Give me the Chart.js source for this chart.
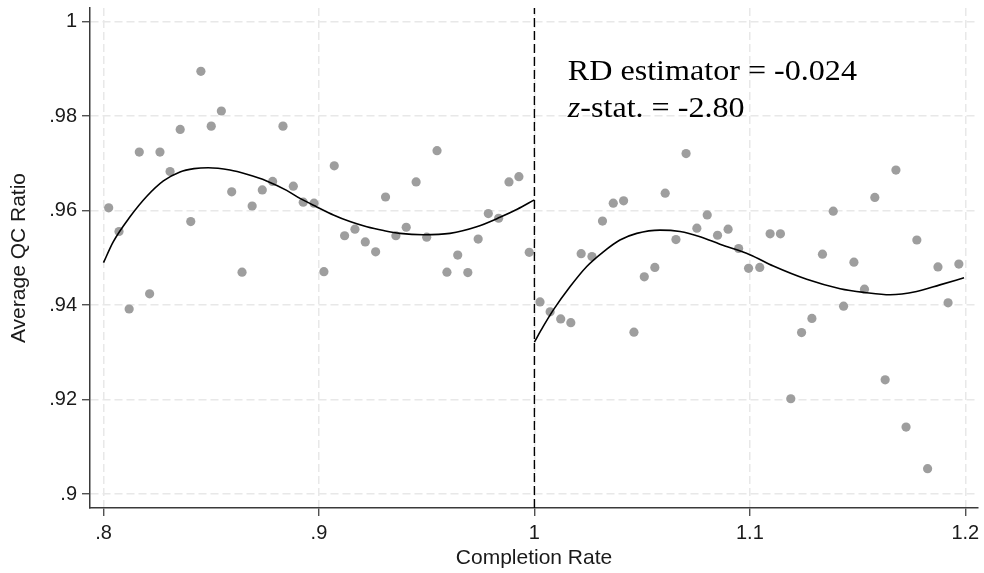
<!DOCTYPE html>
<html>
<head>
<meta charset="utf-8">
<script src="https://cdn.jsdelivr.net/npm/chart.js@4.4.1/dist/chart.umd.min.js"></script>
<style>
  html, body { margin: 0; padding: 0; background: #fff; }
  #wrap { width: 984px; height: 573px; }
</style>
</head>
<body>
<div id="wrap"><canvas id="rd" width="984" height="573"></canvas></div>
<script>
// Binned averages of the QC ratio, below the cutoff (completion rate < 1)
const binLeft = [
  0.8024, 0.8072, 0.8119, 0.8166, 0.8214, 0.8262, 0.8309, 0.8356, 0.8405, 0.8452,
  0.8500, 0.8547, 0.8595, 0.8643, 0.8690, 0.8737, 0.8785, 0.8833, 0.8881, 0.8927,
  0.8977, 0.9023, 0.9071, 0.9119, 0.9167, 0.9215, 0.9263, 0.9309, 0.9357, 0.9405,
  0.9451, 0.9500, 0.9548, 0.9594, 0.9644, 0.9691, 0.9739, 0.9786, 0.9834, 0.9882,
  0.9928, 0.9976
];
const qcLeft = [
  0.9606, 0.9556, 0.9392, 0.9724, 0.9424, 0.9724, 0.9683, 0.9772, 0.9577, 0.9895,
  0.9779, 0.9811, 0.9640, 0.9470, 0.9610, 0.9644, 0.9662, 0.9779, 0.9652, 0.9618,
  0.9616, 0.9471, 0.9695, 0.9547, 0.9561, 0.9534, 0.9513, 0.9629, 0.9547, 0.9565,
  0.9661, 0.9544, 0.9727, 0.9470, 0.9506, 0.9469, 0.9540, 0.9594, 0.9584, 0.9661,
  0.9672, 0.9512
];

// Binned averages above the cutoff (completion rate >= 1)
const binRight = [
  1.0026, 1.0073, 1.0122, 1.0169, 1.0217, 1.0267, 1.0316, 1.0366, 1.0414, 1.0462,
  1.0510, 1.0559, 1.0607, 1.0657, 1.0704, 1.0754, 1.0802, 1.0850, 1.0899, 1.0948,
  1.0994, 1.1046, 1.1094, 1.1142, 1.1190, 1.1240, 1.1288, 1.1337, 1.1387, 1.1435,
  1.1483, 1.1532, 1.1580, 1.1628, 1.1678, 1.1725, 1.1775, 1.1825, 1.1873, 1.1920,
  1.1970
];
const qcRight = [
  0.9407, 0.9386, 0.9371, 0.9363, 0.9509, 0.9503, 0.9578, 0.9616, 0.9621, 0.9343,
  0.9460, 0.9480, 0.9637, 0.9539, 0.9721, 0.9563, 0.9591, 0.9548, 0.9561, 0.9520,
  0.9478, 0.9480, 0.9551, 0.9551, 0.9202, 0.9342, 0.9372, 0.9508, 0.9599, 0.9398,
  0.9491, 0.9434, 0.9628, 0.9242, 0.9686, 0.9142, 0.9538, 0.9054, 0.9481, 0.9405,
  0.9487
];

// Polynomial fit on each side of the cutoff, sampled along the running variable
const fitLeftX = [0.8000, 0.8045, 0.8123, 0.8200, 0.8278, 0.8355, 0.8420, 0.8486, 0.8587, 0.8665,
                  0.8757, 0.8850, 0.8912, 0.8990, 0.9067, 0.9144, 0.9222, 0.9300, 0.9376, 0.9484,
                  0.9608, 0.9732, 0.9840, 0.9920, 1.0000];
const fitLeftY = [0.9490, 0.9534, 0.9587, 0.9630, 0.9663, 0.9682, 0.9689, 0.9691, 0.9686, 0.9677,
                  0.9663, 0.9643, 0.9626, 0.9608, 0.9591, 0.9577, 0.9566, 0.9558, 0.9552, 0.9549,
                  0.9552, 0.9566, 0.9586, 0.9603, 0.9623];
const fitRightX = [1.0000, 1.0041, 1.0088, 1.0165, 1.0243, 1.0320, 1.0397, 1.0475, 1.0583, 1.0676,
                   1.0769, 1.0861, 1.1000, 1.1109, 1.1264, 1.1419, 1.1533, 1.1651, 1.1774, 1.1882,
                   1.1994];
const fitRightY = [0.9322, 0.9355, 0.9390, 0.9439, 0.9482, 0.9513, 0.9538, 0.9552, 0.9559, 0.9556,
                   0.9545, 0.9529, 0.9507, 0.9483, 0.9455, 0.9435, 0.9427, 0.9422, 0.9429, 0.9443,
                   0.9458];

// Axis ticks and labels
const xTicks = [0.8, 0.9, 1.0, 1.1, 1.2];
const xTickLabels = ['.8', '.9', '1', '1.1', '1.2'];
const yTicks = [0.9, 0.92, 0.94, 0.96, 0.98, 1.0];
const yTickLabels = ['.9', '.92', '.94', '.96', '.98', '1'];

// Cutoff and estimation results
const cutoff = 1.0;
const rdEstimate = '-0.024';
const zStat = '-2.80';

const X_MIN = 0.79373, X_MAX = 1.20589;
const Y_MIN = 0.89708, Y_MAX = 1.0029;

const pairs = (xs, ys) => xs.map((x, i) => ({ x: x, y: ys[i] }));

const SANS = '"Liberation Sans", Arial, Helvetica, sans-serif';
const SERIF = '"Liberation Serif", "Times New Roman", Times, serif';

// Draws the RD estimate and z statistic in the upper right of the plot
const resultText = {
  id: 'resultText',
  afterDatasetsDraw(chart) {
    const { ctx, scales: { x, y } } = chart;
    const left = x.getPixelForValue(1.0155);
    const base1 = y.getPixelForValue(0.98766);
    const base2 = y.getPixelForValue(0.97983);
    const stretch = 1.07;
    ctx.save();
    ctx.fillStyle = '#000';
    ctx.textBaseline = 'alphabetic';
    ctx.textAlign = 'left';

    ctx.save();
    ctx.translate(left, base1);
    ctx.scale(stretch, 1);
    ctx.font = '30px ' + SERIF;
    ctx.fillText('RD estimator = ' + rdEstimate, 0, 0);
    ctx.restore();

    ctx.save();
    ctx.translate(left, base2);
    ctx.scale(stretch, 1);
    ctx.font = 'italic 30px ' + SERIF;
    ctx.fillText('z', 0, 0);
    const zw = ctx.measureText('z').width;
    ctx.font = '30px ' + SERIF;
    ctx.fillText('-stat. = ' + zStat, zw, 0);
    ctx.restore();

    ctx.restore();
  }
};

const gridStyle = {
  color: '#e8e8e8',
  lineWidth: 1.5,
  tickColor: '#333',
  tickLength: 8,
  tickWidth: 1.2,
  tickBorderDash: []
};

new Chart(document.getElementById('rd'), {
  type: 'scatter',
  data: {
    datasets: [
      {
        label: 'Fit below cutoff',
        data: pairs(fitLeftX, fitLeftY),
        showLine: true,
        borderColor: '#000',
        borderWidth: 1.6,
        pointRadius: 0,
        cubicInterpolationMode: 'monotone',
        order: 1
      },
      {
        label: 'Fit above cutoff',
        data: pairs(fitRightX, fitRightY),
        showLine: true,
        borderColor: '#000',
        borderWidth: 1.6,
        pointRadius: 0,
        cubicInterpolationMode: 'monotone',
        order: 1
      },
      {
        label: 'Cutoff',
        data: [{ x: cutoff, y: Y_MIN }, { x: cutoff, y: Y_MAX }],
        showLine: true,
        borderColor: '#000',
        borderWidth: 1.4,
        borderDash: [9, 4],
        pointRadius: 0,
        order: 2
      },
      {
        label: 'Bin means below',
        data: pairs(binLeft, qcLeft),
        backgroundColor: '#9e9e9e',
        borderWidth: 0,
        pointRadius: 4.6,
        order: 3
      },
      {
        label: 'Bin means above',
        data: pairs(binRight, qcRight),
        backgroundColor: '#9e9e9e',
        borderWidth: 0,
        pointRadius: 4.6,
        order: 3
      }
    ]
  },
  options: {
    responsive: false,
    animation: false,
    devicePixelRatio: 1,
    layout: { padding: { top: 8, right: 6, left: 0, bottom: 0 } },
    plugins: {
      legend: { display: false },
      tooltip: { enabled: false }
    },
    scales: {
      x: {
        type: 'linear',
        min: X_MIN,
        max: X_MAX,
        afterBuildTicks: (s) => { s.ticks = xTicks.map(v => ({ value: v })); },
        afterFit: (s) => { s.height = 65; s.paddingLeft = 0; s.paddingRight = 0; },
        ticks: {
          autoSkip: false,
          maxRotation: 0,
          padding: 5,
          color: '#1a1a1a',
          font: { family: SANS, size: 20 },
          callback: (v, i) => xTickLabels[i]
        },
        grid: gridStyle,
        border: { display: true, color: '#3a3a3a', width: 1.5, dash: [8, 4] },
        title: {
          display: true,
          text: 'Completion Rate',
          color: '#1a1a1a',
          font: { family: SANS, size: 21 },
          padding: { top: 0, bottom: 2 }
        }
      },
      y: {
        type: 'linear',
        min: Y_MIN,
        max: Y_MAX,
        afterBuildTicks: (s) => { s.ticks = yTicks.map(v => ({ value: v })); },
        afterFit: (s) => { s.width = 90; s.paddingTop = 0; s.paddingBottom = 0; },
        ticks: {
          autoSkip: false,
          padding: 5,
          color: '#1a1a1a',
          font: { family: SANS, size: 20 },
          callback: (v, i) => yTickLabels[i]
        },
        grid: gridStyle,
        border: { display: true, color: '#3a3a3a', width: 1.5, dash: [8, 4] },
        title: {
          display: true,
          text: 'Average QC Ratio',
          color: '#1a1a1a',
          font: { family: SANS, size: 21 },
          padding: { top: 7, bottom: 0 }
        }
      }
    }
  },
  plugins: [resultText]
});
</script>
</body>
</html>
